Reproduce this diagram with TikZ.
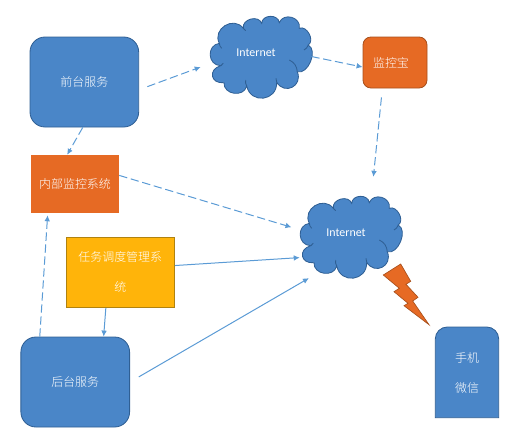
\documentclass[tikz,border=0pt]{standalone}
\usepackage{fontspec}
\setmainfont{Noto Sans CJK SC Light}
\newfontfamily\netfont{Carlito}
\usetikzlibrary{arrows.meta}
\definecolor{BoxBlue}{HTML}{4A86C8}
\definecolor{EdgeBlue}{HTML}{2F5F94}
\definecolor{LineBlue}{HTML}{5B9BD5}
\definecolor{BoxOrange}{HTML}{E66A24}
\definecolor{EdgeOrange}{HTML}{A8501C}
\definecolor{BoxYellow}{HTML}{FFB40A}
\definecolor{EdgeYellow}{HTML}{B0820F}
\tikzset{
    netcloud/.pic={
        \draw[cloudline, fill=BoxBlue] (-40.7,-14.2)
            to[bend left=85,looseness=1.45] (-16.7,-29.2)
            to[bend left=85,looseness=1.25] (1.7,-34.2)
            to[bend left=85,looseness=1.3] (19.3,-34.8)
            to[bend left=85,looseness=1.4] (39.3,-29.2)
            to[bend left=85,looseness=1.1] (48.3,-12.5)
            to[bend left=85,looseness=1.0] (37.3,14.2)
            to[bend left=85,looseness=1.7] (16.7,24.8)
            to[bend left=85,looseness=1.6] (-13.3,28.5)
            to[bend left=85,looseness=1.35] (-36,25.2)
            to[bend left=85,looseness=2.0] (-39.3,8.2)
            to[bend left=85,looseness=1.5] (-40.7,-14.2) -- cycle;
        \draw[cloudline] (29.3,2.5) to[bend left=30] (37.3,14.2);
        \draw[cloudline] (48.3,-12.5) to[bend left=20] (44,-7.5);
        \draw[cloudline] (-40.7,-14.2) to[bend right=20] (-38.3,-9.2);
        \draw[cloudline] (-39.3,8.2) to[bend right=20] (-36.7,5.8);
        \draw[cloudline] (16.7,24.8) to[bend right=20] (16,20.8);
        \draw[cloudline] (-13.3,28.5) to[bend left=20] (-14.3,22.5);
        \draw[cloudline] (-16.7,-29.2) to[bend left=20] (-14.3,-26.8);
    }
}

\begin{document}
\begin{tikzpicture}[
    x=0.3mm, y=-0.3mm,
    every node/.style={text=white, font=\fontsize{10.2}{25.6}\selectfont, align=center, inner sep=0pt},
    cloudline/.style={draw=EdgeBlue, line width=0.25mm},
    bluebox/.style={draw=EdgeBlue, line width=0.25mm, fill=BoxBlue, rounded corners=4.5mm, minimum width=32.6mm, minimum height=27mm},
    netbox/.style={minimum width=27.6mm, minimum height=21.6mm, font=\netfont\fontsize{10.2}{12}\selectfont},
    darrow/.style={-{Latex[length=1.8mm,width=1.7mm]}, line width=0.3mm, draw=LineBlue, dash pattern=on 2.5mm off 1.1mm},
    sarrow/.style={-{Latex[length=1.8mm,width=1.7mm]}, line width=0.3mm, draw=LineBlue}
]
\useasboundingbox (0,0) rectangle (507,437);
% clouds and the bolt come first, their nodes lie on top
\pic at (260,57.5) {netcloud};
\pic at (350,237.5) {netcloud};
\draw[draw=EdgeOrange, line width=0.2mm, fill=BoxOrange] (383.3,275) -- (400.7,264) -- (410.7,281.3) -- (406,284.3) -- (418,297.3) -- (412.7,301) -- (429,324.7) -- (404,305.7) -- (408,303.3) -- (394,291.7) -- (399.3,288.3) -- cycle;
\draw[draw=EdgeBlue, line width=0.25mm, fill=BoxBlue, rounded corners=3.6mm] (435.3,417.7) -- (435.3,327) -- (498.7,327) [sharp corners] -- (498.7,417.7) -- cycle;

\node[bluebox] (front) at (84.35,82) {前台服务};
\node[bluebox] (back) at (75.25,382) {后台服务};
\node[fill=BoxOrange, minimum width=26.4mm, minimum height=17.4mm] (inner) at (75,184) {内部监控系统};
\node[draw=EdgeOrange, line width=0.25mm, fill=BoxOrange, rounded corners=2.4mm, minimum width=19.2mm, minimum height=15.3mm] (monitor) at (395,62.5) {监控宝\hspace{2.4mm}};
\node[draw=EdgeYellow, line width=0.25mm, fill=BoxYellow, minimum width=32.55mm, minimum height=21.15mm] (task) at (120.25,272.25) {任务调度管理系\\统};
\node[netbox] (inet1) at (256,53) {Internet};
\node[netbox] (inet2) at (346,233) {Internet};
\node (phone) at (467,372.5) {手机\\微信};

\draw[darrow, shorten <=2.65mm, shorten >=2.9mm] (front.-8.4) -- (inet1.193);
\draw[darrow, shorten <=2.8mm] (inet1.-2.9) -- (monitor.188);
\draw[darrow, shorten <=2.7mm, shorten >=6mm] (monitor.244.2) -- (inet2.55.9);
\draw[darrow] (front.268.3) -- (inner.105.4);
\draw[darrow, shorten >=2.6mm] (inner.11.9) -- (inet2.176.5);
\draw[darrow, shorten >=0.6mm] (back.128.7) -- (inner.227.2);
\draw[sarrow] (task.248) -- (back.58.3);
\draw[sarrow] (task.7.6) -- (inet2.208.2);
\draw[sarrow, shorten <=3.05mm, shorten >=5.3mm] (back.-0.4) -- (inet2.239.4);
\end{tikzpicture}
\end{document}
